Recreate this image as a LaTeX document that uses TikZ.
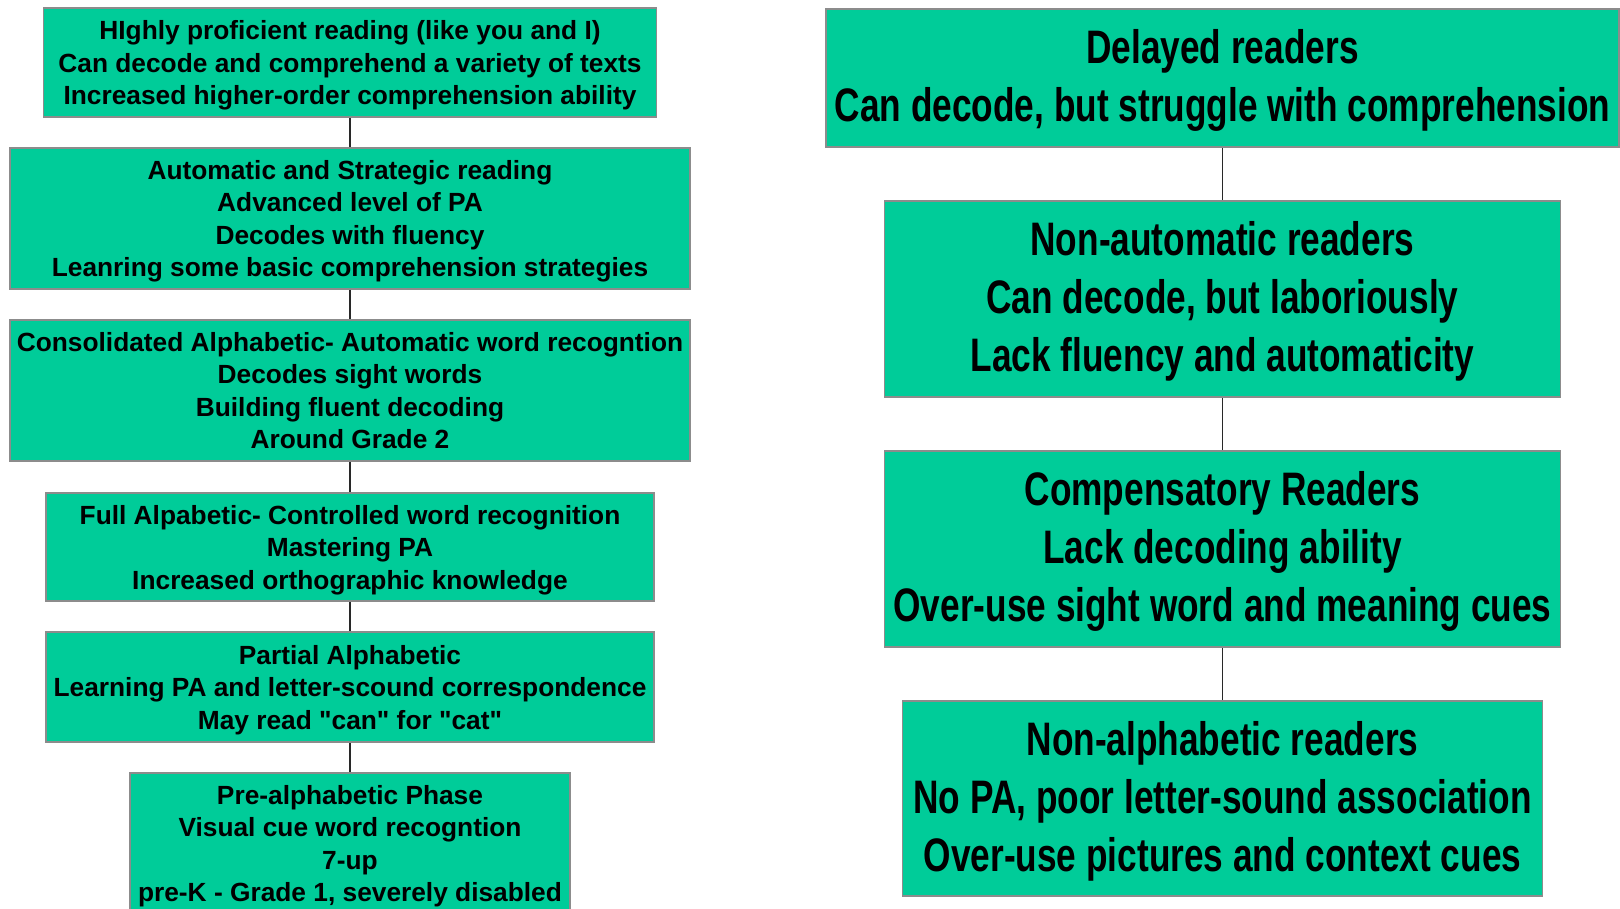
\documentclass[tikz,border=0pt]{standalone}
\usepackage{fontspec}
\setmainfont{Liberation Sans}[Ligatures=TeXOff]
\newfontfamily\narrowfont[FakeStretch=0.75]{Liberation Sans}
\definecolor{boxgreen}{RGB}{0,204,153}
\definecolor{boxborder}{RGB}{140,140,140}
\definecolor{linkcol}{RGB}{40,40,40}
\newcommand{\btext}[1]{\raisebox{-3pt}[\height][\depth]{\begin{tabular}{@{}c@{}}#1\end{tabular}}}
\begin{document}
\begin{tikzpicture}[x=1pt,y=-1pt,
  box/.style={draw=boxborder, line width=1.6pt, fill=boxgreen, inner sep=0pt,
    font=\bfseries\fontsize{26.3}{32.5}\selectfont},
  rbox/.style={box, font=\narrowfont\bfseries\fontsize{47}{58}\selectfont},
  link/.style={draw=linkcol, line width=1.3pt}]
\useasboundingbox (0,0) rectangle (1620,908);
% left column
\node[box, minimum width=613, minimum height=109] (b1) at (350,62.5)
  {\btext{HIghly proficient reading (like you and I)\\Can decode and comprehend a variety of texts\\Increased higher-order comprehension ability}};
\node[box, minimum width=680, minimum height=141] (b2) at (350,218.5)
  {\btext{Automatic and Strategic reading\\Advanced level of PA\\Decodes with fluency\\Leanring some basic comprehension strategies}};
\node[box, minimum width=680, minimum height=141] (b3) at (350,390.5)
  {\btext{Consolidated Alphabetic- Automatic word recogntion\\Decodes sight words\\Building fluent decoding\\Around Grade 2}};
\node[box, minimum width=608, minimum height=108] (b4) at (350,547)
  {\btext{Full Alpabetic- Controlled word recognition\\Mastering PA\\Increased orthographic knowledge}};
\node[box, minimum width=608, minimum height=110] (b5) at (350,687)
  {\btext{Partial Alphabetic\\Learning PA and letter-scound correspondence\\May read "can" for "cat"}};
\node[box, minimum width=440, minimum height=141] (b6) at (350,843.5)
  {\btext{Pre-alphabetic Phase\\Visual cue word recogntion\\7-up\\pre-K - Grade 1, severely disabled}};
\foreach \a/\b in {b1/b2,b2/b3,b3/b4,b4/b5,b5/b6}
  \draw[link] (\a.south) -- (\b.north);
% right column
\node[rbox, minimum width=793, minimum height=138] (r1) at (1222.5,78)
  {\btext{Delayed readers\\Can decode, but struggle with comprehension}};
\node[rbox, minimum width=676, minimum height=196] (r2) at (1222.5,299)
  {\btext{Non-automatic readers\\Can decode, but laboriously\\Lack fluency and automaticity}};
\node[rbox, minimum width=676, minimum height=196] (r3) at (1222.5,549)
  {\btext{Compensatory Readers\\Lack decoding ability\\Over-use sight word and meaning cues}};
\node[rbox, minimum width=640, minimum height=195] (r4) at (1222.5,798.5)
  {\btext{Non-alphabetic readers\\No PA, poor letter-sound association\\Over-use pictures and context cues}};
\foreach \a/\b in {r1/r2,r2/r3,r3/r4}
  \draw[link] (\a.south) -- (\b.north);
\end{tikzpicture}
\end{document}
